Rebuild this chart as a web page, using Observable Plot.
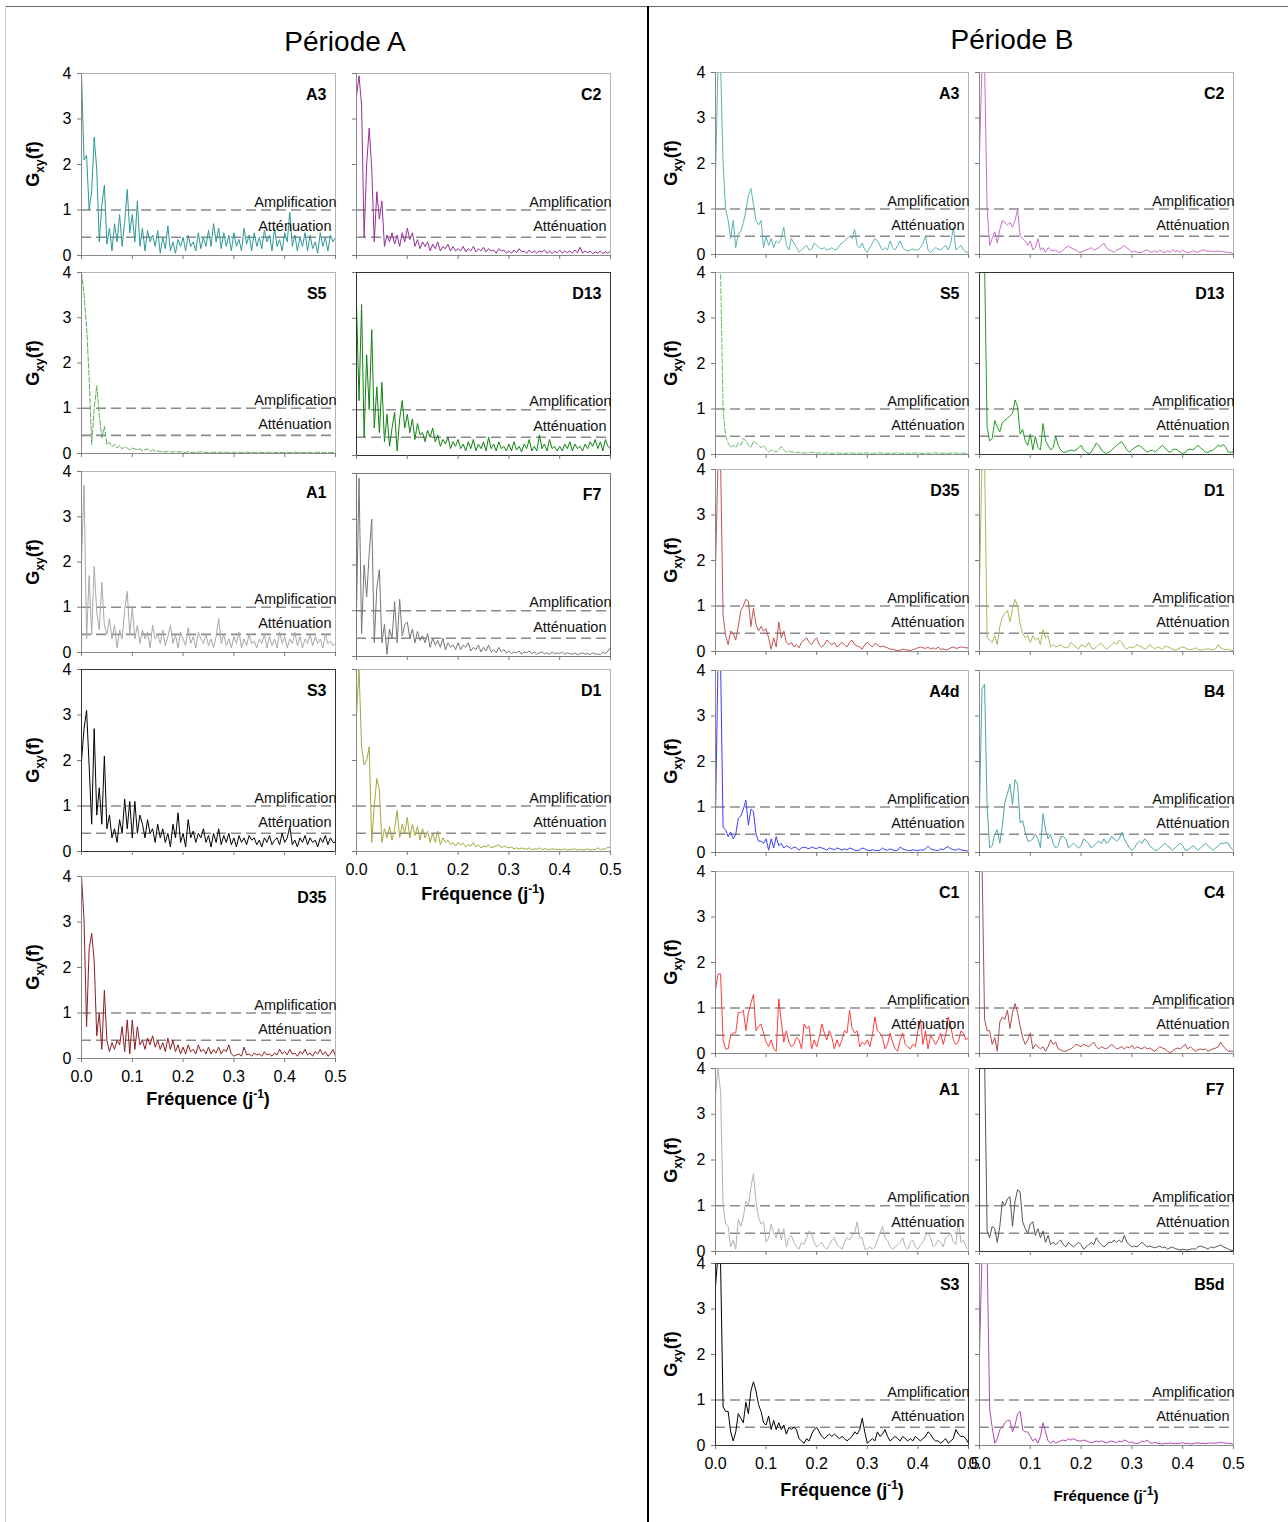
<!DOCTYPE html>
<html><head><meta charset="utf-8">
<script src="https://cdn.jsdelivr.net/npm/d3@7"></script>
<script src="https://cdn.jsdelivr.net/npm/@observablehq/plot@0.6"></script>
<style>
body{margin:0;background:#fff;font-family:Arial,"Liberation Sans",sans-serif;}
#page{position:relative;width:1288px;height:1522px;overflow:hidden;background:#fff;}
.abs{position:absolute;}
.ctr{position:absolute;transform:translate(-50%,-50%);white-space:nowrap;color:#000;}
.ytitle{position:absolute;transform:translate(-50%,-50%) rotate(-90deg);white-space:nowrap;font-weight:bold;font-size:18px;color:#000;}
.ytitle sub{font-size:12px;}
.xtitle{font-weight:bold;font-size:18px;}
.xtitle sup{font-size:12px;}
</style></head>
<body><div id="page"></div>
<script>
// ---------- data ----------
const freq = [0,0.005,0.01,0.015,0.02,0.025,0.03,0.035,0.04,0.045,
0.05,0.055,0.06,0.065,0.07,0.075,0.08,0.085,0.09,0.095,
0.1,0.105,0.11,0.115,0.12,0.125,0.13,0.135,0.14,0.145,
0.15,0.155,0.16,0.165,0.17,0.175,0.18,0.185,0.19,0.195,
0.2,0.205,0.21,0.215,0.22,0.225,0.23,0.235,0.24,0.245,
0.25,0.255,0.26,0.265,0.27,0.275,0.28,0.285,0.29,0.295,
0.3,0.305,0.31,0.315,0.32,0.325,0.33,0.335,0.34,0.345,
0.35,0.355,0.36,0.365,0.37,0.375,0.38,0.385,0.39,0.395,
0.4,0.405,0.41,0.415,0.42,0.425,0.43,0.435,0.44,0.445,
0.45,0.455,0.46,0.465,0.47,0.475,0.48,0.485,0.49,0.495,
0.5];
const xTicks = [0, 0.1, 0.2, 0.3, 0.4, 0.5];
const yTicks = [0, 1, 2, 3, 4];
const thresholds = [1, 0.4];
const zoneLabels = ["Amplification", "Atténuation"];
const periodTitles = ["Période A", "Période B"];

// Période A
const A_A3 = [4.0,2.1,2.2,1.0,1.4,2.6,1.9,0.3,1.1,1.55,
0.25,0.6,0.1,0.7,0.3,0.9,0.2,0.75,1.45,0.5,
0.9,0.3,1.2,0.2,0.6,0.1,0.55,0.3,0.45,0.2,
0.55,0.05,0.4,0.15,0.65,0.1,0.3,0.05,0.35,0.2,
0.4,0.1,0.45,0.2,0.3,0.1,0.5,0.15,0.4,0.2,
0.55,0.2,0.7,0.3,0.6,0.15,0.5,0.2,0.45,0.1,
0.5,0.2,0.35,0.1,0.6,0.25,0.45,0.1,0.5,0.2,
0.4,0.15,0.55,0.3,0.45,0.1,0.6,0.2,0.35,0.1,
0.5,0.3,0.95,0.2,0.45,0.1,0.4,0.2,0.5,0.1,
0.45,0.15,0.3,0.05,0.5,0.2,0.4,0.1,0.45,0.3,
0.4];
const A_C2 = [3.5,3.95,3.3,0.4,2.0,2.8,1.9,0.3,1.4,0.8,
1.2,0.2,0.45,0.3,0.5,0.25,0.45,0.2,0.5,0.3,
0.6,0.35,0.5,0.2,0.35,0.15,0.3,0.2,0.3,0.1,
0.25,0.15,0.3,0.1,0.2,0.15,0.25,0.1,0.2,0.1,
0.15,0.1,0.2,0.08,0.15,0.1,0.2,0.08,0.15,0.1,
0.18,0.08,0.15,0.1,0.12,0.05,0.15,0.1,0.12,0.05,
0.1,0.05,0.12,0.06,0.15,0.08,0.1,0.05,0.12,0.06,
0.1,0.05,0.1,0.08,0.12,0.05,0.1,0.04,0.1,0.06,
0.12,0.05,0.1,0.06,0.1,0.05,0.12,0.06,0.18,0.05,
0.1,0.06,0.1,0.04,0.08,0.05,0.1,0.04,0.08,0.05,
0.1];
const A_S5 = [4.0,3.5,2.8,1.7,0.2,1.0,1.5,0.85,0.35,0.6,
0.2,0.25,0.15,0.2,0.12,0.18,0.1,0.15,0.12,0.08,
0.12,0.1,0.08,0.1,0.06,0.08,0.1,0.05,0.08,0.05,
0.06,0.04,0.05,0.03,0.05,0.04,0.03,0.05,0.03,0.04,
0.03,0.02,0.04,0.02,0.03,0.02,0.03,0.04,0.02,0.03,
0.02,0.03,0.02,0.03,0.02,0.03,0.02,0.03,0.02,0.02,
0.03,0.02,0.03,0.02,0.02,0.03,0.02,0.03,0.02,0.02,
0.03,0.02,0.02,0.03,0.02,0.03,0.02,0.02,0.03,0.02,
0.02,0.03,0.02,0.02,0.03,0.02,0.03,0.02,0.02,0.03,
0.02,0.02,0.03,0.02,0.03,0.02,0.02,0.03,0.02,0.02,
0.03];
const A_D13 = [3.3,1.2,3.3,0.4,2.2,1.0,2.75,0.6,1.5,0.5,
1.6,0.3,0.9,0.2,0.6,0.95,0.1,0.8,1.2,0.6,
0.9,0.5,0.8,0.35,0.7,0.45,0.5,0.3,0.55,0.4,
0.6,0.3,0.45,0.2,0.35,0.25,0.4,0.15,0.3,0.2,
0.35,0.15,0.25,0.1,0.3,0.15,0.35,0.1,0.25,0.15,
0.3,0.1,0.4,0.15,0.25,0.1,0.3,0.15,0.2,0.1,
0.25,0.1,0.3,0.12,0.2,0.08,0.25,0.15,0.35,0.1,
0.2,0.1,0.45,0.15,0.25,0.1,0.35,0.15,0.2,0.1,
0.2,0.1,0.25,0.15,0.3,0.1,0.25,0.15,0.2,0.1,
0.25,0.15,0.3,0.2,0.35,0.15,0.3,0.1,0.35,0.2,
0.15];
const A_A1 = [2.0,3.7,0.3,1.7,0.4,1.9,0.9,0.5,1.55,0.6,
0.4,0.75,0.3,0.6,0.1,0.5,0.3,0.95,1.35,0.4,
1.0,0.3,0.6,0.2,0.5,0.3,0.45,0.1,0.6,0.3,
0.4,0.2,0.5,0.15,0.35,0.6,0.2,0.4,0.1,0.45,
0.3,0.15,0.55,0.2,0.35,0.1,0.45,0.3,0.2,0.4,
0.15,0.3,0.1,0.35,0.75,0.2,0.4,0.15,0.3,0.1,
0.35,0.2,0.45,0.1,0.3,0.15,0.4,0.2,0.25,0.1,
0.3,0.2,0.4,0.1,0.35,0.15,0.3,0.1,0.45,0.2,
0.35,0.1,0.3,0.2,0.45,0.15,0.35,0.1,0.3,0.2,
0.4,0.15,0.35,0.2,0.3,0.1,0.4,0.2,0.25,0.15,
0.2];
const A_F7 = [1.0,3.9,0.5,2.0,1.3,2.25,3.0,0.3,1.5,1.9,
0.3,0.7,0.05,0.6,0.4,1.2,0.3,1.25,0.45,0.7,
0.75,0.4,0.6,0.3,0.55,0.35,0.45,0.3,0.5,0.2,
0.4,0.25,0.35,0.2,0.4,0.15,0.3,0.2,0.25,0.15,
0.3,0.15,0.25,0.2,0.3,0.12,0.2,0.15,0.25,0.1,
0.2,0.12,0.25,0.1,0.15,0.08,0.2,0.1,0.15,0.08,
0.12,0.06,0.1,0.08,0.12,0.05,0.1,0.08,0.12,0.06,
0.1,0.05,0.08,0.1,0.06,0.08,0.05,0.1,0.06,0.08,
0.06,0.1,0.05,0.08,0.06,0.05,0.08,0.04,0.06,0.08,
0.05,0.07,0.04,0.08,0.05,0.06,0.04,0.1,0.06,0.12,
0.2];
const A_S3 = [2.0,2.7,3.1,1.9,0.6,2.7,0.8,1.4,0.6,2.1,
0.5,0.8,0.3,0.5,0.2,0.7,0.4,1.15,0.5,1.1,
0.3,1.1,0.4,0.8,0.6,0.3,0.7,0.4,0.5,0.2,
0.6,0.3,0.5,0.2,0.4,0.1,0.6,0.3,0.85,0.2,
0.4,0.1,0.7,0.3,0.45,0.2,0.4,0.3,0.5,0.2,
0.35,0.1,0.4,0.2,0.5,0.15,0.35,0.2,0.4,0.15,
0.3,0.1,0.35,0.2,0.3,0.15,0.35,0.25,0.3,0.15,
0.25,0.1,0.3,0.2,0.35,0.15,0.25,0.3,0.15,0.4,
0.2,0.3,0.55,0.15,0.25,0.1,0.3,0.2,0.35,0.15,
0.3,0.2,0.25,0.1,0.3,0.2,0.35,0.15,0.3,0.2,
0.2];
const A_D1 = [3.0,4.0,2.3,1.9,2.0,2.3,0.2,1.0,1.6,1.35,
0.2,0.5,0.3,0.55,0.25,0.5,0.9,0.3,0.6,0.4,
0.75,0.3,0.6,0.35,0.55,0.25,0.5,0.3,0.45,0.2,
0.4,0.2,0.45,0.15,0.3,0.2,0.25,0.15,0.2,0.12,
0.2,0.15,0.18,0.1,0.15,0.12,0.2,0.1,0.15,0.08,
0.12,0.1,0.15,0.08,0.1,0.12,0.15,0.08,0.12,0.1,
0.08,0.1,0.06,0.08,0.05,0.08,0.06,0.05,0.08,0.04,
0.06,0.05,0.08,0.04,0.06,0.05,0.04,0.06,0.05,0.04,
0.05,0.04,0.06,0.03,0.05,0.04,0.06,0.03,0.05,0.04,
0.04,0.06,0.03,0.05,0.04,0.08,0.04,0.06,0.05,0.1,
0.08];
const A_D35 = [4.0,3.05,0.7,2.4,2.75,2.15,0.5,1.0,0.2,1.5,
0.4,0.15,0.35,0.2,0.4,0.3,0.7,0.15,0.85,0.1,
0.85,0.2,0.7,0.3,0.4,0.2,0.45,0.3,0.5,0.25,
0.4,0.2,0.35,0.15,0.45,0.2,0.4,0.15,0.3,0.1,
0.25,0.1,0.3,0.15,0.2,0.1,0.3,0.15,0.2,0.1,
0.25,0.1,0.2,0.12,0.25,0.1,0.2,0.15,0.3,0.1,
0.05,0.08,0.1,0.05,0.25,0.08,0.1,0.05,0.12,0.08,
0.1,0.05,0.15,0.08,0.1,0.05,0.12,0.08,0.2,0.1,
0.15,0.08,0.2,0.1,0.12,0.05,0.15,0.1,0.2,0.08,
0.12,0.05,0.15,0.1,0.2,0.08,0.15,0.05,0.1,0.2,
0.05];

// Période B
const B_A3 = [1.7,4.2,4.2,2.0,1.0,0.75,0.35,0.75,0.15,0.45,
0.5,0.7,0.95,1.3,1.45,1.1,0.75,0.65,0.75,0.15,
0.4,0.2,0.35,0.15,0.3,0.25,0.35,0.6,0.2,0.1,
0.35,0.25,0.15,0.05,0.1,0.15,0.2,0.1,0.12,0.25,
0.2,0.15,0.12,0.15,0.1,0.12,0.15,0.1,0.12,0.2,
0.25,0.3,0.35,0.4,0.35,0.55,0.2,0.15,0.25,0.1,
0.05,0.15,0.25,0.35,0.3,0.2,0.1,0.15,0.1,0.3,
0.15,0.1,0.2,0.3,0.15,0.1,0.08,0.1,0.12,0.1,
0.1,0.15,0.25,0.4,0.1,0.05,0.1,0.15,0.12,0.1,
0.15,0.2,0.1,0.25,0.6,0.1,0.15,0.2,0.1,0.05,
0.05];
const B_C2 = [2.2,4.2,4.2,1.0,0.2,0.35,0.5,0.25,0.55,0.75,
0.7,0.65,0.7,0.6,0.75,1.0,0.4,0.35,0.3,0.2,
0.3,0.1,0.15,0.35,0.1,0.15,0.05,0.15,0.1,0.08,
0.1,0.05,0.05,0.1,0.15,0.18,0.15,0.12,0.1,0.05,
0.05,0.08,0.1,0.12,0.15,0.1,0.12,0.15,0.2,0.25,
0.15,0.1,0.08,0.05,0.1,0.12,0.15,0.2,0.15,0.1,
0.05,0.08,0.05,0.04,0.05,0.08,0.1,0.06,0.05,0.08,
0.05,0.1,0.06,0.04,0.08,0.05,0.1,0.06,0.08,0.05,
0.1,0.06,0.04,0.05,0.08,0.06,0.05,0.08,0.1,0.08,
0.07,0.08,0.06,0.07,0.08,0.07,0.06,0.05,0.05,0.04,
0.02];
const B_S5 = [4.2,4.2,4.0,1.0,0.4,0.25,0.15,0.2,0.15,0.25,
0.2,0.35,0.3,0.2,0.15,0.3,0.25,0.2,0.15,0.2,
0.12,0.05,0.1,0.08,0.05,0.1,0.18,0.1,0.05,0.08,
0.05,0.06,0.04,0.05,0.04,0.03,0.04,0.03,0.05,0.04,
0.03,0.04,0.03,0.03,0.04,0.03,0.02,0.03,0.04,0.03,
0.03,0.02,0.03,0.04,0.03,0.02,0.03,0.03,0.02,0.03,
0.04,0.03,0.02,0.03,0.03,0.04,0.03,0.02,0.03,0.03,
0.02,0.03,0.04,0.03,0.02,0.03,0.03,0.02,0.03,0.03,
0.04,0.03,0.02,0.03,0.03,0.02,0.03,0.04,0.03,0.02,
0.03,0.03,0.02,0.03,0.04,0.03,0.02,0.03,0.03,0.02,
0.02];
const B_D13 = [4.2,4.2,4.2,0.6,0.3,0.35,0.75,0.6,0.5,0.7,
0.75,0.8,0.85,0.9,1.2,1.05,0.45,0.55,0.3,0.2,
0.45,0.1,0.4,0.15,0.1,0.68,0.3,0.2,0.1,0.15,
0.4,0.2,0.1,0.05,0.05,0.08,0.1,0.08,0.1,0.15,
0.2,0.1,0.05,0.02,0.05,0.15,0.25,0.2,0.1,0.05,
0.02,0.05,0.1,0.15,0.2,0.25,0.28,0.2,0.1,0.05,
0.1,0.15,0.18,0.2,0.15,0.1,0.05,0.08,0.1,0.05,
0.1,0.15,0.2,0.15,0.08,0.05,0.1,0.12,0.1,0.05,
0.02,0.05,0.1,0.12,0.1,0.15,0.2,0.15,0.1,0.05,
0.05,0.08,0.1,0.15,0.2,0.18,0.22,0.15,0.05,0.05,
0.05];
const B_D35 = [1.8,4.2,4.2,0.8,0.35,0.15,0.45,0.4,0.25,0.55,
0.9,1.0,1.15,1.1,0.55,0.95,0.6,0.45,0.55,0.45,
0.5,0.3,0.05,0.3,0.1,0.65,0.3,0.45,0.2,0.15,
0.2,0.1,0.15,0.08,0.2,0.25,0.3,0.2,0.15,0.25,
0.3,0.15,0.1,0.15,0.25,0.2,0.15,0.2,0.1,0.15,
0.2,0.15,0.1,0.2,0.25,0.15,0.12,0.1,0.05,0.15,
0.2,0.15,0.1,0.18,0.15,0.1,0.12,0.1,0.08,0.05,
0.05,0.03,0.02,0.03,0.05,0.04,0.03,0.02,0.04,0.06,
0.08,0.1,0.08,0.07,0.09,0.06,0.08,0.05,0.1,0.04,
0.06,0.03,0.05,0.08,0.1,0.07,0.08,0.1,0.09,0.08,
0.08];
const B_D1 = [1.5,4.2,4.2,0.3,0.25,0.2,0.35,0.15,0.55,0.75,
0.85,0.9,0.65,0.95,1.15,1.0,0.6,0.4,0.3,0.35,
0.2,0.35,0.25,0.3,0.15,0.48,0.3,0.35,0.1,0.15,
0.1,0.12,0.15,0.1,0.08,0.1,0.2,0.15,0.1,0.05,
0.15,0.12,0.1,0.2,0.08,0.05,0.1,0.15,0.18,0.1,
0.05,0.1,0.15,0.2,0.15,0.25,0.2,0.1,0.05,0.1,
0.08,0.1,0.15,0.12,0.1,0.05,0.08,0.15,0.1,0.05,
0.1,0.08,0.05,0.12,0.1,0.08,0.05,0.03,0.05,0.08,
0.1,0.08,0.05,0.04,0.05,0.08,0.05,0.03,0.04,0.05,
0.06,0.05,0.04,0.06,0.15,0.08,0.05,0.04,0.05,0.03,
0.02];
const B_A4d = [0.8,4.2,4.2,0.55,0.5,0.35,0.45,0.3,0.4,0.75,
0.8,0.95,1.15,0.6,0.95,0.9,0.4,0.25,0.25,0.2,
0.3,0.05,0.3,0.1,0.35,0.15,0.2,0.1,0.15,0.12,
0.08,0.12,0.1,0.05,0.1,0.12,0.1,0.08,0.12,0.1,
0.08,0.12,0.1,0.08,0.05,0.1,0.08,0.06,0.1,0.08,
0.05,0.08,0.06,0.1,0.08,0.05,0.04,0.06,0.1,0.08,
0.05,0.04,0.06,0.05,0.04,0.05,0.1,0.06,0.05,0.08,
0.06,0.04,0.05,0.12,0.08,0.06,0.05,0.04,0.06,0.05,
0.04,0.06,0.05,0.08,0.14,0.08,0.06,0.05,0.04,0.08,
0.06,0.1,0.13,0.08,0.06,0.05,0.08,0.06,0.05,0.04,
0.03];
const B_B4 = [1.0,3.6,3.7,1.0,0.1,0.15,0.4,0.5,0.2,0.6,
1.1,1.3,1.5,1.05,1.6,1.5,0.65,0.7,0.45,0.25,
0.25,0.3,0.4,0.3,0.1,0.85,0.5,0.3,0.4,0.2,
0.1,0.15,0.35,0.35,0.3,0.1,0.15,0.2,0.15,0.1,
0.15,0.3,0.25,0.2,0.1,0.15,0.2,0.25,0.2,0.3,
0.2,0.25,0.35,0.3,0.25,0.3,0.45,0.3,0.2,0.1,
0.05,0.1,0.2,0.25,0.2,0.3,0.25,0.15,0.1,0.05,
0.05,0.1,0.15,0.2,0.15,0.1,0.05,0.1,0.15,0.2,
0.15,0.05,0.05,0.1,0.15,0.1,0.05,0.1,0.15,0.2,
0.15,0.1,0.05,0.1,0.15,0.2,0.2,0.22,0.2,0.1,
0.05];
const B_C1 = [1.4,1.75,1.75,0.3,0.1,0.1,0.4,0.45,0.45,0.9,
0.9,0.95,0.5,0.9,1.1,1.3,0.5,0.6,0.65,0.45,
0.25,0.15,0.3,0.1,0.05,1.2,0.7,0.25,0.5,0.25,
0.15,0.2,0.35,0.3,0.1,0.65,0.55,0.6,0.1,0.3,
0.15,0.35,0.65,0.45,0.3,0.5,0.35,0.1,0.3,0.15,
0.3,0.5,0.45,0.95,0.55,0.45,0.5,0.15,0.25,0.2,
0.3,0.15,0.4,0.8,0.5,0.45,0.35,0.1,0.2,0.45,
0.25,0.1,0.05,0.3,0.45,0.2,0.15,0.1,0.2,0.15,
0.5,0.75,0.2,0.5,0.1,0.4,0.3,0.2,0.3,0.45,
0.2,0.4,0.8,0.6,0.3,0.2,0.25,0.5,0.45,0.3,
0.35];
const B_C4 = [4.2,4.2,0.75,0.5,0.5,0.2,0.35,0.05,0.7,0.8,
0.75,0.95,0.55,0.9,1.1,0.9,0.6,0.35,0.2,0.3,
0.45,0.1,0.2,0.15,0.1,0.15,0.05,0.15,0.3,0.2,
0.25,0.1,0.08,0.05,0.05,0.08,0.1,0.15,0.2,0.18,
0.15,0.2,0.18,0.15,0.2,0.25,0.15,0.1,0.15,0.12,
0.1,0.15,0.2,0.15,0.1,0.12,0.15,0.1,0.15,0.12,
0.18,0.1,0.15,0.12,0.1,0.15,0.1,0.12,0.08,0.05,
0.1,0.15,0.12,0.1,0.05,0.02,0.05,0.1,0.12,0.1,
0.15,0.2,0.1,0.15,0.1,0.05,0.08,0.1,0.08,0.1,
0.05,0.08,0.1,0.12,0.15,0.25,0.15,0.1,0.05,0.05,
0.05];
const B_A1 = [3.4,4.0,3.5,1.0,0.6,0.55,0.1,0.25,0.05,0.7,
0.55,0.75,1.1,1.0,1.4,1.7,1.1,0.75,0.6,0.65,
0.2,0.3,0.6,0.4,0.3,0.5,0.25,0.5,0.1,0.3,
0.35,0.2,0.1,0.05,0.2,0.15,0.3,0.45,0.4,0.2,
0.1,0.15,0.2,0.1,0.05,0.15,0.25,0.3,0.15,0.1,
0.05,0.2,0.3,0.25,0.35,0.4,0.65,0.3,0.3,0.05,
0.05,0.1,0.05,0.1,0.25,0.4,0.55,0.3,0.25,0.1,
0.05,0.1,0.15,0.2,0.3,0.1,0.05,0.2,0.25,0.1,
0.05,0.15,0.2,0.35,0.4,0.3,0.1,0.15,0.25,0.2,
0.1,0.3,0.35,0.4,0.2,0.15,0.7,0.2,0.25,0.1,
0.05];
const B_F7 = [4.2,4.2,4.2,0.45,0.3,0.55,0.5,0.2,0.55,1.1,
1.0,1.15,1.2,0.55,1.1,1.35,1.3,0.65,0.5,0.4,
0.6,0.65,0.35,0.5,0.3,0.45,0.2,0.35,0.15,0.2,
0.15,0.2,0.25,0.15,0.1,0.2,0.15,0.1,0.15,0.2,
0.15,0.05,0.1,0.15,0.2,0.15,0.3,0.2,0.15,0.1,
0.15,0.2,0.2,0.25,0.2,0.25,0.2,0.35,0.2,0.15,
0.1,0.12,0.1,0.15,0.2,0.15,0.1,0.12,0.1,0.08,
0.1,0.12,0.08,0.1,0.05,0.08,0.1,0.06,0.05,0.03,
0.05,0.04,0.03,0.05,0.06,0.05,0.1,0.12,0.1,0.08,
0.05,0.1,0.08,0.1,0.12,0.14,0.1,0.08,0.05,0.03,
0.01];
const B_S3 = [3.5,4.2,4.0,0.85,0.75,0.75,0.3,0.1,0.3,0.7,
0.6,0.5,0.95,0.7,1.2,1.4,1.2,0.9,0.75,0.5,
0.45,0.65,0.35,0.55,0.35,0.5,0.35,0.45,0.25,0.4,
0.35,0.4,0.35,0.15,0.1,0.05,0.15,0.1,0.25,0.35,
0.4,0.3,0.2,0.15,0.2,0.25,0.2,0.25,0.2,0.15,
0.2,0.15,0.1,0.15,0.2,0.3,0.25,0.35,0.6,0.3,
0.05,0.1,0.15,0.1,0.3,0.2,0.25,0.35,0.2,0.1,
0.15,0.2,0.15,0.1,0.2,0.15,0.1,0.15,0.1,0.2,
0.15,0.1,0.15,0.2,0.3,0.25,0.15,0.1,0.1,0.05,
0.1,0.15,0.05,0.1,0.15,0.35,0.25,0.2,0.2,0.15,
0.05];
const B_B5d = [2.0,4.2,4.2,4.2,0.8,0.4,0.05,0.15,0.35,0.4,
0.5,0.55,0.55,0.3,0.45,0.7,0.75,0.35,0.3,0.3,
0.2,0.1,0.15,0.05,0.2,0.5,0.3,0.1,0.05,0.1,
0.05,0.08,0.1,0.12,0.1,0.15,0.12,0.15,0.12,0.1,
0.1,0.12,0.1,0.08,0.06,0.08,0.1,0.08,0.1,0.08,
0.06,0.08,0.1,0.08,0.06,0.1,0.08,0.12,0.1,0.06,
0.08,0.05,0.04,0.06,0.1,0.08,0.12,0.06,0.05,0.07,
0.05,0.04,0.03,0.05,0.04,0.06,0.04,0.05,0.04,0.05,
0.06,0.04,0.05,0.03,0.04,0.05,0.06,0.04,0.05,0.04,
0.05,0.06,0.05,0.05,0.06,0.07,0.06,0.05,0.05,0.04,
0.03];

// ---------- layout ----------
const LIGHT = "#b4b4b4", DARK = "#333333";
const AxL = [81, 335], AxR = [356, 610];
const BxL = [715, 968], BxR = [979, 1233];
const panels = [
  // Période A
  {name:"A3", v:A_A3, c:"#2e9797", x:AxL, y:[73,255], yl:true},
  {name:"C2", v:A_C2, c:"#963096", x:AxR, y:[73,255]},
  {name:"S5", v:A_S5, c:"#5cae5c", x:AxL, y:[272,453], yl:true, dash:"5,2"},
  {name:"D13", v:A_D13, c:"#0f820f", x:AxR, y:[272,455], fr:DARK},
  {name:"A1", v:A_A1, c:"#a8a8a8", x:AxL, y:[471,652], yl:true},
  {name:"F7", v:A_F7, c:"#767676", x:AxR, y:[473,656], fr:"#777"},
  {name:"S3", v:A_S3, c:"#000000", x:AxL, y:[669,851], yl:true, fr:DARK},
  {name:"D1", v:A_D1, c:"#a6a640", x:AxR, y:[669,851], xl:true},
  {name:"D35", v:A_D35, c:"#8e1e1e", x:AxL, y:[876,1058], yl:true, xl:true},
  // Période B
  {name:"A3", v:B_A3, c:"#5eb3b3", x:BxL, y:[72,254], yl:true},
  {name:"C2", v:B_C2, c:"#c86ec8", x:BxR, y:[72,254]},
  {name:"S5", v:B_S5, c:"#6cbc6c", x:BxL, y:[272,454], yl:true, dash:"5,2"},
  {name:"D13", v:B_D13, c:"#1f9a24", x:BxR, y:[272,454], fr:DARK},
  {name:"D35", v:B_D35, c:"#c25252", x:BxL, y:[469,651], yl:true},
  {name:"D1", v:B_D1, c:"#b4b45a", x:BxR, y:[469,651]},
  {name:"A4d", v:B_A4d, c:"#3c3cff", x:BxL, y:[670,852], yl:true},
  {name:"B4", v:B_B4, c:"#4ea6a6", x:BxR, y:[670,852]},
  {name:"C1", v:B_C1, c:"#ff3c3c", x:BxL, y:[871,1053], yl:true},
  {name:"C4", v:B_C4, c:"#b24a4a", x:BxR, y:[871,1053]},
  {name:"A1", v:B_A1, c:"#b2b2b2", x:BxL, y:[1068,1251], yl:true},
  {name:"F7", v:B_F7, c:"#555555", x:BxR, y:[1068,1251], fr:DARK},
  {name:"S3", v:B_S3, c:"#000000", x:BxL, y:[1263,1445], yl:true, xl:true, fr:DARK},
  {name:"B5d", v:B_B5d, c:"#b046b0", x:BxR, y:[1263,1445], xl:true}
];

const page = document.getElementById("page");
function addDiv(cls, html, left, top, extra) {
  const d = document.createElement("div");
  d.className = cls; d.innerHTML = html;
  d.style.left = left + "px"; d.style.top = top + "px";
  if (extra) Object.assign(d.style, extra);
  page.appendChild(d);
  return d;
}

// frame lines of the figure
addDiv("abs", "", 5, 6, {width:"1283px", height:"0", borderTop:"1px solid #666"});
addDiv("abs", "", 5, 6, {width:"0", height:"1516px", borderLeft:"1px solid #c8c8c8"});
addDiv("abs", "", 647, 6, {width:"0", height:"1516px", borderLeft:"2px solid #000"});

const FONT = "Arial, 'Liberation Sans', sans-serif";
const mL = 42, mR = 8, mT = 6, mB = 36;

for (const p of panels) {
  const W = p.x[1] - p.x[0], H = p.y[1] - p.y[0];
  const data = p.v.map((g, i) => ({f: freq[i], g})).filter(d => d.f !== undefined);
  const fr = p.fr || LIGHT;
  const svg = Plot.plot({
    width: W + mL + mR, height: H + mT + mB,
    marginLeft: mL, marginRight: mR, marginTop: mT, marginBottom: mB,
    x: {domain: [0, 0.5], label: null},
    y: {domain: [0, 4], label: null},
    style: {background: "transparent", fontFamily: FONT, fontSize: "16px", color: "#000", overflow: "visible"},
    marks: [
      Plot.ruleY(thresholds, {stroke: "#8a8a8a", strokeWidth: 1.6, strokeDasharray: "10,5"}),
      Plot.line(data, {x: "f", y: "g", stroke: p.c, strokeWidth: 1, strokeDasharray: p.dash, clip: true}),
      Plot.frame({stroke: fr}),
      Plot.ruleX([0], {stroke: fr === LIGHT ? "#8a8a8a" : fr}),
      Plot.ruleY([0], {stroke: fr === LIGHT ? "#8a8a8a" : fr}),
      Plot.axisX({ticks: xTicks, tickSize: 4, tickPadding: 8, stroke: "#777", fill: "#000", fontSize: 16,
        tickFormat: p.xl ? (d => d.toFixed(1)) : (() => "")}),
      Plot.axisY({ticks: yTicks, tickSize: 4, tickPadding: 6, stroke: "#777", fill: "#000", fontSize: 16,
        tickFormat: p.yl ? (d => String(d)) : (() => "")}),
      Plot.text([{f: 0.5, g: 4, t: p.name}], {x: "f", y: "g", text: "t", textAnchor: "end",
        dx: -9, dy: 21, fontSize: 16, fontWeight: "bold", fill: "#000"}),
      Plot.text([{f: 0.5, g: thresholds[0], t: zoneLabels[0]}], {x: "f", y: "g", text: "t", textAnchor: "end",
        dx: 1, dy: -8, fontSize: 14.5, fill: "#111"}),
      Plot.text([{f: 0.5, g: thresholds[1], t: zoneLabels[1]}], {x: "f", y: "g", text: "t", textAnchor: "end",
        dx: -4, dy: -11, fontSize: 14.5, fill: "#111"})
    ]
  });
  svg.style.position = "absolute";
  svg.style.left = (p.x[0] - mL) + "px";
  svg.style.top = (p.y[0] - mT) + "px";
  svg.style.maxWidth = "none";
  page.appendChild(svg);

  if (p.yl) {
    const cx = p.x[0] === AxL[0] ? 35 : 673;
    addDiv("ytitle", "G<sub>xy</sub>(f)", cx, (p.y[0] + p.y[1]) / 2);
  }
}

// titles
addDiv("ctr", periodTitles[0], 345, 42, {fontSize: "28px"});
addDiv("ctr", periodTitles[1], 1012, 40, {fontSize: "28px"});

// x axis titles
const xt = "Fréquence (j<sup>-1</sup>)";
addDiv("ctr xtitle", xt, 208, 1098);
addDiv("ctr xtitle", xt, 483, 893);
addDiv("ctr xtitle", xt, 842, 1489);
addDiv("ctr xtitle", xt, 1106, 1494, {fontSize: "15px"});
</script>
</body></html>
